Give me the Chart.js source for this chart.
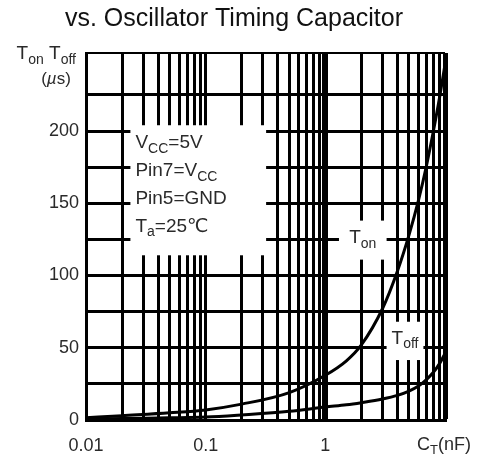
<!DOCTYPE html>
<html lang="en">
<head>
<meta charset="UTF-8">
<title>Ton Toff vs. Oscillator Timing Capacitor</title>
<script src="https://cdn.jsdelivr.net/npm/chart.js"></script>
<style>
  html, body { margin: 0; padding: 0; background: #fff; }
</style>
</head>
<body>
<canvas id="myChart" width="480" height="457"></canvas>

<script>
// timing capacitor C_T (nF)
const capacitance = [0.01, 0.02, 0.05, 0.1, 0.2, 0.5, 1, 1.5, 2, 3, 4, 5, 6, 7, 8, 9, 10];
// T_on (us)
const tOn  = [1.5, 3, 5, 7, 11, 19, 31, 41, 52, 77, 103, 128, 152, 176, 200, 223, 246];
// T_off (us)
const tOff = [0.5, 1, 1.5, 2, 3.5, 6, 9, 10.5, 12, 14.5, 17, 20, 23.5, 28, 33, 39, 46];

const xTickLabels = [0.01, 0.1, 1];
const yTickLabels = [0, 50, 100, 150, 200];
const yGrid = [0, 25, 50, 75, 100, 125, 150, 175, 200, 225];
const yMax = 254;

const titleText = 'vs. Oscillator Timing Capacitor';
const conditions = ['V{CC}=5V', 'Pin7=V{CC}', 'Pin5=GND', 'T{a}=25℃'];

// grid lines 1..9 x 10^n, 0.01 to 10
const xGrid = [];
[0.01, 0.1, 1].forEach(d => { for (let k = 1; k <= 9; k++) xGrid.push(+(k * d).toPrecision(3)); });
xGrid.push(10);

const FAMILY = "'Liberation Sans', 'DejaVu Sans', sans-serif";
const TEXT = '#2a2a2a';

function near(a, b) { return Math.abs(Math.log10(a) - Math.log10(b)) < 1e-6; }

// {..} = subscript, [..] = italic
function parseRich(str) {
    const parts = [];
    const re = /\{([^}]*)\}|\[([^\]]*)\]|([^{\[]+)/g;
    let m;
    while ((m = re.exec(str))) {
        if (m[1] !== undefined) parts.push({ t: m[1], sub: true });
        else if (m[2] !== undefined) parts.push({ t: m[2], it: true });
        else parts.push({ t: m[3] });
    }
    return parts;
}

function drawRich(ctx, str, x, y, size, align) {
    const parts = parseRich(str);
    const fontOf = p => (p.it ? 'italic ' : '') + (p.sub ? Math.round(size * 0.72) : size) + 'px ' + FAMILY;
    let w = 0;
    parts.forEach(p => { ctx.font = fontOf(p); p.w = ctx.measureText(p.t).width; w += p.w; });
    let cx = align === 'right' ? x - w : align === 'center' ? x - w / 2 : x;
    ctx.textBaseline = 'middle';
    ctx.textAlign = 'left';
    parts.forEach(p => {
        ctx.font = fontOf(p);
        ctx.fillText(p.t, cx, y + (p.sub ? size * 0.3 : 0));
        cx += p.w;
    });
}

// white boxes over the grid holding the notes
const noteBoxes = [
    { x0: 0.0235, x1: 0.32, y0: 114, y1: 204, lines: conditions, align: 'left' },
    { x0: 1.3, x1: 3.25, y0: 111, y1: 138, lines: ['T{on}'], align: 'center' },
    { x0: 3.25, x1: 6.6, y0: 41.5, y1: 68, lines: ['T{off}'], align: 'center' }
];

const notesPlugin = {
    id: 'notes',
    beforeDatasetsDraw(chart) {
        const { ctx, scales: { x, y } } = chart;
        ctx.save();
        noteBoxes.forEach(b => {
            const l = x.getPixelForValue(b.x0), r = x.getPixelForValue(b.x1);
            const t = y.getPixelForValue(b.y1), bt = y.getPixelForValue(b.y0);
            ctx.fillStyle = '#fff';
            ctx.fillRect(l, t, r - l, bt - t);
            ctx.fillStyle = TEXT;
            if (b.align === 'left') {
                b.lines.forEach((s, i) => drawRich(ctx, s, l + 5, t + 18 + i * 27.7, 19, 'left'));
            } else {
                drawRich(ctx, b.lines[0], (l + r) / 2, (t + bt) / 2 - 2, 19, 'center');
            }
        });
        ctx.restore();
    },
    afterDraw(chart) {
        const { ctx, chartArea } = chart;
        ctx.save();
        ctx.fillStyle = '#111';
        drawRich(ctx, titleText, chart.width / 2 - 6, 19, 25, 'center');
        ctx.fillStyle = TEXT;
        drawRich(ctx, 'T{on} T{off}', chartArea.left - 10, chartArea.top + 1, 19, 'right');
        drawRich(ctx, '([µ]s)', chartArea.left - 30, chartArea.top + 26, 17, 'center');
        drawRich(ctx, 'C{T}(nF)', chartArea.right - 28, chartArea.bottom + 25, 18, 'left');
        ctx.restore();
    }
};

const ctx = document.getElementById('myChart').getContext('2d');
const myChart = new Chart(ctx, {
    type: 'line',
    data: {
        datasets: [{
            label: 'Ton',
            data: capacitance.map((c, i) => ({ x: c, y: tOn[i] })),
            borderColor: '#000',
            borderWidth: 3,
            pointRadius: 0,
            cubicInterpolationMode: 'monotone',
            fill: false
        }, {
            label: 'Toff',
            data: capacitance.map((c, i) => ({ x: c, y: tOff[i] })),
            borderColor: '#000',
            borderWidth: 3,
            pointRadius: 0,
            cubicInterpolationMode: 'monotone',
            fill: false
        }]
    },
    options: {
        responsive: false,
        animation: false,
        devicePixelRatio: 1,
        layout: { padding: { left: 0, right: 35, top: 53, bottom: 0 } },
        plugins: {
            legend: { display: false },
            tooltip: { enabled: false },
            title: { display: false }
        },
        scales: {
            x: {
                type: 'logarithmic',
                min: 0.01,
                max: 10,
                afterBuildTicks: s => { s.ticks = xGrid.map(v => ({ value: v })); },
                afterFit: s => { s.height = 37; },
                ticks: {
                    autoSkip: false,
                    maxRotation: 0,
                    padding: 15,
                    color: TEXT,
                    font: { family: FAMILY, size: 18 },
                    callback: v => xTickLabels.some(t => near(t, v)) ? String(xTickLabels.find(t => near(t, v))) : ''
                },
                grid: {
                    color: '#000',
                    drawTicks: false,
                    lineWidth: c => {
                        const v = c.tick ? c.tick.value : 0;
                        if (near(v, 1)) return 6;
                        if (near(v, 10)) return 5;
                        return 3;
                    }
                },
                border: { display: true, color: '#000', width: 3 }
            },
            y: {
                type: 'linear',
                min: 0,
                max: yMax,
                afterBuildTicks: s => { s.ticks = yGrid.concat([yMax]).map(v => ({ value: v })); },
                afterFit: s => { s.width = 86; },
                ticks: {
                    padding: 7,
                    color: TEXT,
                    font: { family: FAMILY, size: 18 },
                    callback: v => yTickLabels.includes(v) ? String(v) : ''
                },
                grid: {
                    color: '#000',
                    drawTicks: false,
                    lineWidth: c => (c.tick && c.tick.value === yMax) ? 2 : 3
                },
                border: { display: true, color: '#000', width: 3 }
            }
        }
    },
    plugins: [notesPlugin]
});
</script>
</body>
</html>
